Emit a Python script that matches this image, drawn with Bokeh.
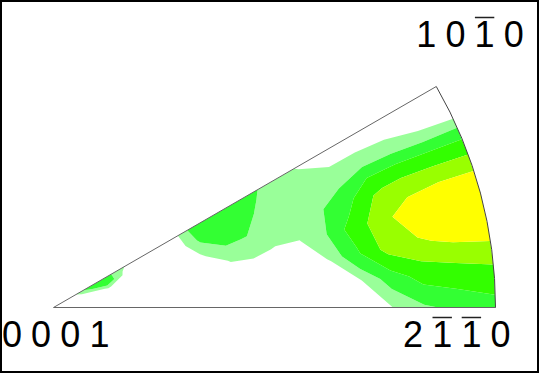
import numpy as np
from bokeh.plotting import figure
from bokeh.models import Range1d
from bokeh.core.properties import value
from bokeh.embed import file_html
from bokeh.resources import INLINE

# ---- data: density on a stereographic grid (psi = polar angle from 0001, phi = azimuth from 2-110)
psi_deg = [0, 5, 10, 15, 20, 25, 30, 35, 40, 45, 50, 55, 60, 65, 70, 75, 80, 85, 90]
phi_deg = [0, 5, 10, 15, 20, 25, 30]

dens_phi00 = [0, 0, 0, 0, 0, 0, 0, 0, 0, 0, 0, 0, 0, 0, 0.3, 0.98, 1.8, 2.3, 2.7]
dens_phi05 = [0, 0, 0, 0, 0, 0, 0, 0, 0, 0, 0, 0, 0, 0.2, 1.0, 2.6, 4.2, 4.6, 5.11]
dens_phi10 = [0, 0, 0, 0, 0, 0, 0, 0, 0, 0.3, 0.4, 0.3, 0.4, 1.1, 3.3, 6.2, 7.2, 8.0, 8.37]
dens_phi15 = [0, 0, 0, 0, 0, 0, 0, 0, 0.2, 1.1, 1.2, 0.95, 0.97, 1.9, 4.2, 6.7, 8.86, 10.0, 10.14]
dens_phi20 = [0, 0, 0.3, 1.15, 0.2, 0, 0, 0, 1.3, 2.05, 1.98, 1.5, 1.5, 1.85, 2.6, 5.3, 5.9, 5.9, 5.74]
dens_phi25 = [0, 0, 1.6, 3.0, 0.8, 0, 0, 0.5, 2.2, 2.6, 2.5, 1.7, 1.5, 1.4, 1.47, 1.63, 1.55, 1.2, 1.064]
dens_phi30 = [0, 0.3, 2.4, 2.6, 1.2, 0.2, 0.3, 0.6, 2.6, 2.7, 2.6, 2.2, 1.29, 0.95, 0.3, 0.2, 0.1, 0, 0]

levels = [1.0, 2.0, 3.5, 5.5, 7.5, 12.0]
band_colors = ["#99FF99", "#33FF33", "#33FF00", "#99FF00", "#FFFF00"]

# corner labels (characters, overbar flags)
label_0001 = ["0", "0", "0", "1"]
bar_0001 = [0, 0, 0, 0]
label_2110 = ["2", "1", "1", "0"]
bar_2110 = [0, 1, 1, 0]
label_1010 = ["1", "0", "1", "0"]
bar_1010 = [0, 0, 1, 0]

# ---- geometry
Z = np.array([dens_phi00, dens_phi05, dens_phi10, dens_phi15,
              dens_phi20, dens_phi25, dens_phi30], dtype=float)
PSI, PHI = np.meshgrid(np.radians(psi_deg), np.radians(phi_deg))
RHO = np.tan(PSI / 2.0)
X = RHO * np.cos(PHI)
Y = RHO * np.sin(PHI)

SCALE = 442.0          # px per unit radius
VX, VY = 61.0, 315.0   # page position of the 0001 pole
W, H = 539, 373
OFF = 8.0

def dx(px):
    return (px - VX) / SCALE

def dy(py):
    return (VY - py) / SCALE

p = figure(width=W, height=H, toolbar_location=None, output_backend="svg",
           x_range=Range1d(dx(OFF), dx(OFF + W)), y_range=Range1d(dy(OFF + H), dy(OFF)),
           x_axis_type=None, y_axis_type=None, min_border=0)
p.grid.visible = False
p.outline_line_color = "black"
p.outline_line_width = 3
p.background_fill_color = "white"
p.border_fill_color = "white"

p.contour(X, Y, Z, levels=levels, fill_color=band_colors, line_color=None)

# sector outline
amax = np.radians(phi_deg[-1])
p.line([np.cos(amax), 0, 1], [np.sin(amax), 0, 0], line_color="#666666", line_width=1)
p.arc(x=0, y=0, radius=1, start_angle=0, end_angle=amax,
      line_color="#444444", line_width=1)

# labels
PITCH = 29.2
FONT = value("Liberation Sans")
SIZE = value("36px")
TEXT_SHIFT = 15.0

def draw_label(chars, bars, first_center_px, baseline_px, bar_px):
    xs = [dx(first_center_px + i * PITCH) for i in range(len(chars))]
    ys = [dy(baseline_px - TEXT_SHIFT)] * len(chars)
    p.text(x=xs, y=ys, text=chars, text_align="center", text_baseline="alphabetic",
           text_font=FONT, text_font_size=SIZE, text_color="black")
    bx0 = [dx(first_center_px + i * PITCH - 9.7) for i, b in enumerate(bars) if b]
    bx1 = [dx(first_center_px + i * PITCH + 9.7) for i, b in enumerate(bars) if b]
    if bx0:
        by = [dy(bar_px)] * len(bx0)
        p.segment(x0=bx0, y0=by, x1=bx1, y1=by, line_color="#222222", line_width=1.5)

draw_label(label_0001, bar_0001, 19.4, 356.7, 325.0)
draw_label(label_2110, bar_2110, 420.5, 356.7, 325.0)
draw_label(label_1010, bar_1010, 433.7, 56.7, 25.0)

open("out.html", "w").write(file_html(p, INLINE))
